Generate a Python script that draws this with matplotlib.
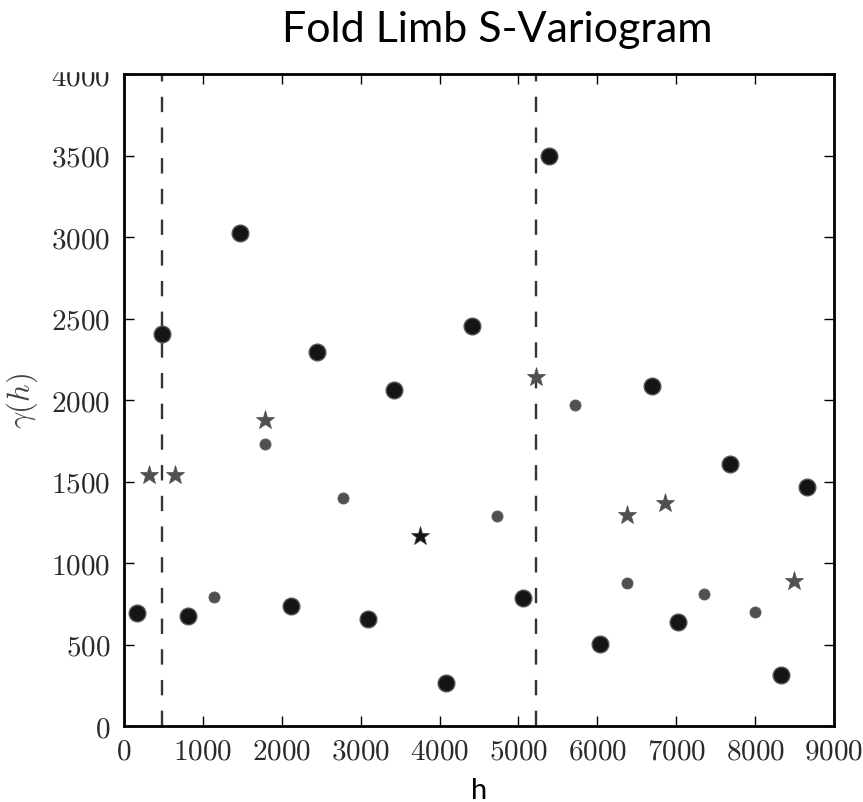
import matplotlib
matplotlib.use('agg')
import matplotlib.pyplot as plt
from matplotlib.patches import Rectangle

# variogram values
big_h = [160, 481, 810, 1468, 2118, 2447, 3093, 3422, 4080, 4409, 5059, 5388,
         6040, 6692, 7023, 7678, 8329, 8658]
big_g = [693, 2405, 675, 3025, 738, 2294, 656, 2063, 264, 2452, 787, 3499,
         504, 2084, 641, 1609, 313, 1468]

small_h = [1143, 1793, 2772, 4730, 5717, 6371, 7346, 8000]
small_g = [790, 1732, 1401, 1286, 1969, 879, 811, 699]

star_h = [321, 650, 1793, 5224, 6371, 6861, 8498]
star_g = [1542, 1540, 1879, 2139, 1294, 1366, 889]

dark_star_h = [3755]
dark_star_g = [1164]

limb_lines = [481, 5224]

xticks = list(range(0, 9001, 1000))
yticks = list(range(0, 4001, 500))

plt.rcParams['mathtext.fontset'] = 'cm'
plt.rcParams['axes.formatter.use_mathtext'] = True

fig = plt.figure(figsize=(8.63, 8.03), dpi=100)
ax = fig.add_axes([124 / 863, 1 - 727 / 803, 710 / 863, 652 / 803])

#dashed markers for the limb boundaries
for x in limb_lines:
    ax.axvline(x, color='#333333', lw=1.7, dashes=(6.5, 6.5), zorder=1)

ax.plot(big_h, big_g, 'o', ms=12, mfc='#151515', mec='#555555', mew=1.0, ls='none', zorder=3)
ax.plot(small_h, small_g, 'o', ms=8, mfc='#505050', mec='#606060', mew=0.6, ls='none', zorder=3)
ax.plot(star_h, star_g, '*', ms=14, mfc='#505050', mec='#505050', mew=0.5, ls='none', zorder=3)
ax.plot(dark_star_h, dark_star_g, '*', ms=14, mfc='#151515', mec='#404040', mew=0.5, ls='none', zorder=3)

ax.set_xlim(0, 9000)
ax.set_ylim(0, 4000)
ax.set_xticks(xticks)
ax.set_yticks(yticks)
for lbl in ax.get_xticklabels() + ax.get_yticklabels():
    lbl.set_family('cmr10')
    lbl.set_color('#2a2a2a')
ax.tick_params(direction='in', length=7, width=1, top=True, right=True, labelsize=21)
ax.tick_params(axis='y', pad=10)
ax.tick_params(axis='x', pad=9)
for s in ax.spines.values():
    s.set_linewidth(2)

ax.set_ylabel(r'$\gamma(h)$', fontsize=22, color='#444444', labelpad=8)

fig.text(479 / 863, 4 / 803, 'h', family='Lato', fontsize=21,
         ha='center', va='baseline')
fig.text(497 / 863, 1 - 30 / 803, 'Fold Limb S-Variogram', family='Lato',
         fontsize=31, ha='center', va='center')

#the original screenshot is cropped just above the top tick label
fig.patches.append(Rectangle((0, 1 - 72 / 803), 120 / 863, 72 / 803,
                             transform=fig.transFigure, color='white', zorder=10))

plt.savefig('out.png', dpi=100)
